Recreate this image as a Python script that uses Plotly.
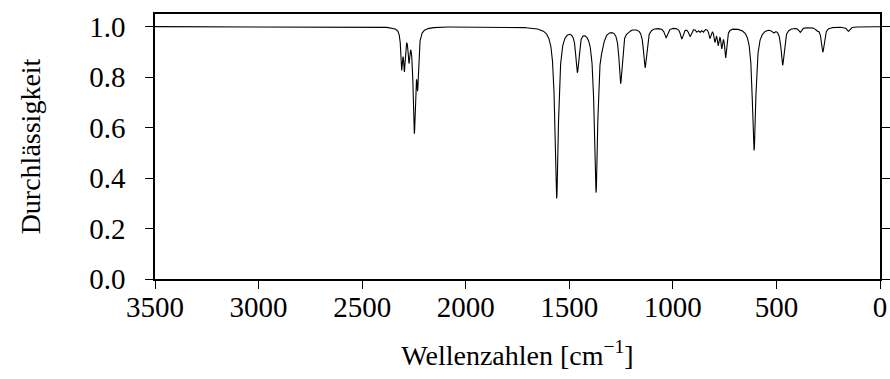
import numpy as np
import plotly.graph_objects as go

# Band list of the IR spectrum: centre (cm^-1), depth (1 - transmittance), half width (cm^-1)
band_centers = [2309, 2296, 2274, 2248, 2232,
                1561, 1461, 1371, 1340, 1252, 1215, 1134,
                1033, 957, 917, 885, 869, 853, 821, 797, 781, 764, 745,
                608, 515, 470, 386, 304, 276, 153]
band_depths = [0.15, 0.15, 0.11, 0.41, 0.20,
               0.68, 0.17, 0.655, 0.03, 0.22, 0.01, 0.16,
               0.04, 0.045, 0.035, 0.015, 0.015, 0.015, 0.04, 0.05, 0.06, 0.07, 0.115,
               0.49, 0.015, 0.15, 0.02, 0.01, 0.10, 0.018]
band_widths = [5, 5, 5, 7, 5,
               10, 9, 10, 9, 9, 8, 9,
               9, 8, 8, 6, 6, 6, 6, 5, 5, 5, 6,
               10, 8, 9, 8, 7, 8, 8]

x_ticks = [3500, 3000, 2500, 2000, 1500, 1000, 500, 0]
y_ticks = [0.0, 0.2, 0.4, 0.6, 0.8, 1.0]

wn = np.linspace(3500, 0, 7001)
trans = np.ones_like(wn)
for c, d, g in zip(band_centers, band_depths, band_widths):
    trans *= 1 - d * g**2 / ((wn - c) ** 2 + g**2)

fig = go.Figure(go.Scatter(x=wn, y=trans, mode="lines",
                           line=dict(color="black", width=1.1), hoverinfo="skip"))

SERIF = "Times New Roman"
tick_font = dict(family=SERIF, size=29, color="black")
title_font = dict(family=SERIF, size=28, color="black")

fig.update_layout(
    width=890, height=379,
    margin=dict(l=155, r=10, t=14, b=100, autoexpand=False),
    paper_bgcolor="white", plot_bgcolor="white",
    showlegend=False,
    font=dict(family=SERIF, size=28, color="black"),
    xaxis=dict(range=[3500, 0], tickvals=x_ticks, ticktext=[str(v) for v in x_ticks],
               tickfont=tick_font, ticklabelstandoff=-7,
               ticks="outside", ticklen=8, tickwidth=1.2, tickcolor="black",
               showline=True, linecolor="black", linewidth=1.5, mirror=True,
               showgrid=False, zeroline=False, automargin=False,
               title=dict(text="Wellenzahlen [cm<sup>−1</sup>]", font=title_font, standoff=24)),
    yaxis=dict(range=[0, 1.05], tickvals=y_ticks, ticktext=[f"{v:.1f}" for v in y_ticks],
               tickfont=tick_font, ticklabelstandoff=14,
               ticks="outside", ticklen=8, tickwidth=1.2, tickcolor="black",
               showline=True, linecolor="black", linewidth=1.5, mirror="ticks",
               showgrid=False, zeroline=False, automargin=False,
               title=dict(text="Durchlässigkeit", font=title_font, standoff=40)),
)

fig.write_html("out.html")
